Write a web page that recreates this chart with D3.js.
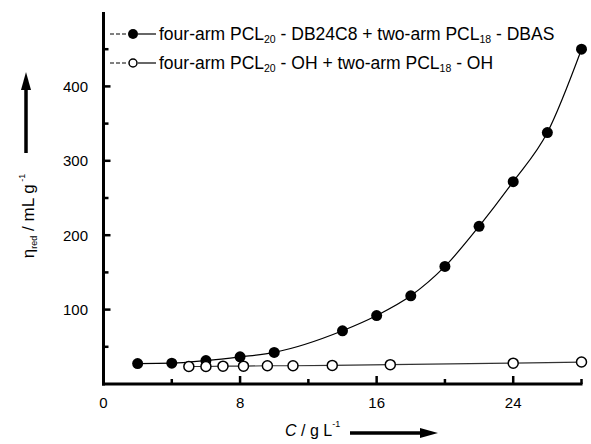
<!DOCTYPE html>
<html><head><meta charset="utf-8">
<script src="https://cdn.jsdelivr.net/npm/d3@7"></script>
<style>
body{margin:0;background:#fff;}
text{font-family:"Liberation Sans",Arial,sans-serif;fill:#000;}
</style></head>
<body><svg id="c" width="591" height="444"></svg>
<script>
const filledX = [2, 4, 6, 8, 10, 14, 16, 18, 20, 22, 24, 26, 28];
const filledY = [27.5, 28, 31.5, 36.5, 42.5, 71.5, 92, 118.5, 158, 212, 272, 338, 450];
const openX = [5, 6, 7, 8.2, 9.6, 11.1, 13.4, 16.8, 24, 28];
const openY = [23.5, 23.5, 24, 24, 24.5, 24.5, 25, 26, 28, 29.5];
const xMajor = [0, 8, 16, 24];
const xMinor = [4, 12, 20, 28];
const yMajor = [100, 200, 300, 400];
const yMinor = [50, 150, 250, 350, 450];
const legendLabels = [
  ["four-arm PCL", "20", " - DB24C8 + two-arm PCL", "18", " - DBAS"],
  ["four-arm PCL", "20", " - OH + two-arm PCL", "18", " - OH"]
];

const svg = d3.select("#c");
const x = d3.scaleLinear().domain([0, 28]).range([103.5, 581.5]);
const y = d3.scaleLinear().domain([0, 500]).range([384, 12]);

// axes lines
svg.append("line").attr("x1", x(0)).attr("x2", x(0)).attr("y1", y(500)).attr("y2", y(0)+1.5)
  .attr("stroke", "#000").attr("stroke-width", 3);
svg.append("line").attr("x1", x(0)-1.5).attr("x2", x(28)+1).attr("y1", y(0)).attr("y2", y(0))
  .attr("stroke", "#000").attr("stroke-width", 3);

// y ticks
yMajor.forEach(v => svg.append("line").attr("x1", x(0)).attr("x2", x(0)+7).attr("y1", y(v)).attr("y2", y(v)).attr("stroke", "#000").attr("stroke-width", 2.5));
yMinor.forEach(v => svg.append("line").attr("x1", x(0)).attr("x2", x(0)+5).attr("y1", y(v)).attr("y2", y(v)).attr("stroke", "#000").attr("stroke-width", 2.5));
yMajor.forEach(v => svg.append("text").attr("x", 88).attr("y", y(v)+5.5).attr("text-anchor", "end").attr("font-size", 15).text(v));

// x ticks
xMajor.forEach(v => svg.append("line").attr("x1", x(v)).attr("x2", x(v)).attr("y1", y(0)).attr("y2", y(0)-8).attr("stroke", "#000").attr("stroke-width", 2.5));
xMinor.forEach(v => svg.append("line").attr("x1", x(v)).attr("x2", x(v)).attr("y1", y(0)).attr("y2", y(0)-5).attr("stroke", "#000").attr("stroke-width", 2.5));
xMajor.forEach(v => svg.append("text").attr("x", x(v)).attr("y", 408).attr("text-anchor", "middle").attr("font-size", 15).text(v));

// lines
const filled = filledX.map((d, i) => [d, filledY[i]]);
const open = openX.map((d, i) => [d, openY[i]]);
svg.append("path").attr("d", d3.line().x(d => x(d[0])).y(d => y(d[1])).curve(d3.curveMonotoneX)(filled))
  .attr("fill", "none").attr("stroke", "#000").attr("stroke-width", 1.2);
svg.append("path").attr("d", d3.line().x(d => x(d[0])).y(d => y(d[1]))(open))
  .attr("fill", "none").attr("stroke", "#333").attr("stroke-width", 1.2);

svg.selectAll("circle.f").data(filled).enter().append("circle").attr("class", "f")
  .attr("cx", d => x(d[0])).attr("cy", d => y(d[1])).attr("r", 5.5).attr("fill", "#000");
svg.selectAll("circle.o").data(open).enter().append("circle").attr("class", "o")
  .attr("cx", d => x(d[0])).attr("cy", d => y(d[1])).attr("r", 5).attr("fill", "#fff").attr("stroke", "#000").attr("stroke-width", 1.5);

// legend
const legY = [34, 63];
legY.forEach((ly, i) => {
  svg.append("line").attr("x1", 110).attr("x2", 128).attr("y1", ly).attr("y2", ly)
    .attr("stroke", "#000").attr("stroke-width", 1).attr("stroke-dasharray", "4,2");
  svg.append("line").attr("x1", 138).attr("x2", 156).attr("y1", ly).attr("y2", ly)
    .attr("stroke", "#000").attr("stroke-width", 1.2);
  if (i === 0) svg.append("circle").attr("cx", 133).attr("cy", ly).attr("r", 5).attr("fill", "#000");
  else svg.append("circle").attr("cx", 133).attr("cy", ly).attr("r", 4).attr("fill", "#fff").attr("stroke", "#000").attr("stroke-width", 1.5);
  const t = svg.append("text").attr("x", 159).attr("y", ly + 6).attr("font-size", 17.5);
  legendLabels[i].forEach((s, k) => {
    const ts = t.append("tspan").text(s);
    if (k % 2 === 1) ts.attr("font-size", 10.5).attr("dy", 3);
    else if (k > 0) ts.attr("dy", -3);
  });
});

// y title
const yt = svg.append("text").attr("transform", "translate(34,216) rotate(-90)").attr("text-anchor", "middle").attr("font-size", 17);
yt.append("tspan").text("η");
yt.append("tspan").text("red").attr("font-size", 9).attr("dy", 3);
yt.append("tspan").text(" / mL g").attr("dy", -3);
yt.append("tspan").text(" -1").attr("font-size", 9).attr("dy", -9);

// y arrow
svg.append("line").attr("x1", 26).attr("x2", 26).attr("y1", 153).attr("y2", 86).attr("stroke", "#000").attr("stroke-width", 3.5);
svg.append("path").attr("d", "M26,72 L21,90 L31,90 Z").attr("fill", "#000");

// x title
const xt = svg.append("text").attr("x", 285).attr("y", 436).attr("font-size", 16);
xt.append("tspan").text("C").attr("font-style", "italic");
xt.append("tspan").text(" / g L");
xt.append("tspan").text("-1").attr("font-size", 9).attr("dy", -9);
svg.append("line").attr("x1", 350).attr("x2", 422).attr("y1", 433).attr("y2", 433).attr("stroke", "#000").attr("stroke-width", 3.5);
svg.append("path").attr("d", "M438,433 L420,428 L420,438 Z").attr("fill", "#000");
</script></body></html>
